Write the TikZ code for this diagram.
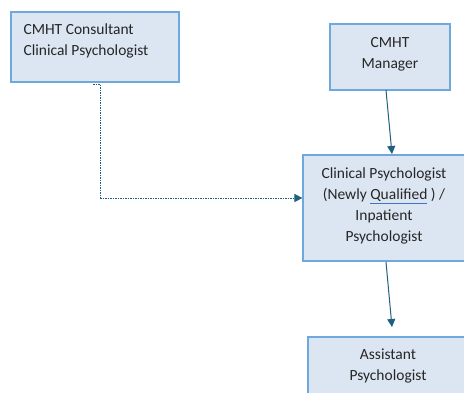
\documentclass[tikz,border=0pt]{standalone}
\usepackage{fontspec}
\setmainfont{Carlito}
\usetikzlibrary{arrows.meta}
\definecolor{boxfill}{HTML}{DCE6F2}
\definecolor{boxline}{HTML}{6FA8DC}
\definecolor{arrowc}{HTML}{1F5F7F}
\definecolor{ulc}{HTML}{4472C4}
\begin{document}
\begin{tikzpicture}[x=1pt,y=-1pt,
  box/.style={draw=boxline,fill=boxfill,line width=1.2pt,inner sep=0pt},
  lbl/.style={font=\fontsize{15.5}{21}\selectfont,align=center,text=black!85},
  dotline/.style={draw=arrowc,line width=1pt,dash pattern=on 1.5pt off 1pt},
  conn/.style={draw=arrowc,line width=1pt,-{Triangle[length=8pt,width=8pt]}}]
\useasboundingbox (0,0) rectangle (464,392);
% boxes
\node[box,minimum width=168pt,minimum height=70pt] (cons) at (95,47) {};
\node[lbl,anchor=north west,align=left] (t1) at (20,20) {CMHT Consultant\\Clinical Psychologist};
\node[box,minimum width=120pt,minimum height=66pt] (mgr) at (390,57) {};
\node[lbl] (t2) at (390,54) {CMHT\\Manager};
\node[box,minimum width=162pt,minimum height=106pt] (cp) at (384,208) {};
\node[lbl] (t3) at (384,206) {Clinical Psychologist\\(Newly {\color{ulc}\underline{\color{black!85}Qualified}} ) /\\Inpatient\\Psychologist};
\node[box,minimum width=160pt,minimum height=70pt] (ap) at (388,372) {};
\node[lbl] (t4) at (388,366) {Assistant\\Psychologist};
% connectors
\coordinate (s1) at (93,84);
\coordinate (k1) at (100,84);
\coordinate (k2) at (100,198);
\draw[dotline] (s1) -- (k1) -- (k2);
\draw[conn,dotline] (k2) -- (cp.west |- k2);
\draw[conn] (386,90) -- (392,154);
\draw[conn] (386,262) -- (392,327);
\end{tikzpicture}
\end{document}
